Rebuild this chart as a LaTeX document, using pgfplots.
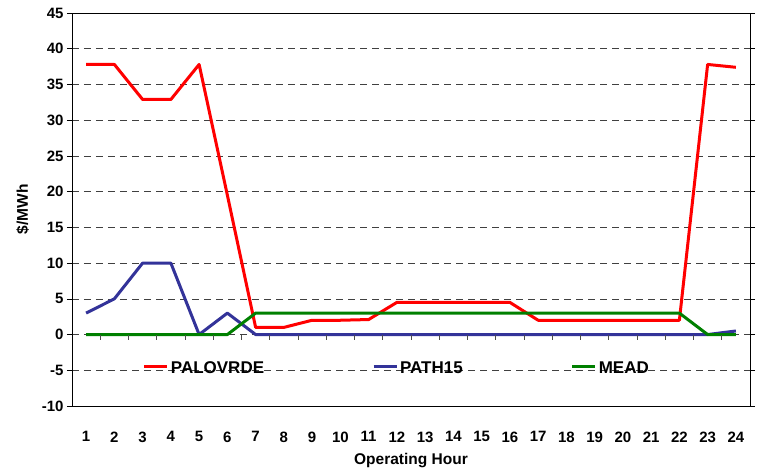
\documentclass[border=0pt]{standalone}
\usepackage{pgfplots}
\pgfplotsset{compat=1.18}
\usepackage{fontspec}
\setmainfont{Liberation Sans}
\usetikzlibrary{calc}
\definecolor{pred}{RGB}{255,0,0}
\definecolor{pblue}{RGB}{51,51,153}
\definecolor{pgreen}{RGB}{0,128,0}
\begin{document}
\begin{tikzpicture}
\begin{axis}[
  name=ax,
  scale only axis, width=678pt, height=393pt,
  xmin=0.5, xmax=24.5, ymin=-10, ymax=45,
  xtick={1,...,24}, ytick={-10,-5,...,45},
  xtick style={draw=none},
  ytick style={black, line width=0.6pt},
  tick align=outside, major tick length=5pt,
  ymajorgrids, grid style={black!75, dash pattern=on 7pt off 5pt, line width=0.6pt},
  axis line style={black, line width=0.8pt},
  /pgf/number format/assume math mode=true,
  ticklabel style={font=\bfseries\fontsize{15}{17}\selectfont},
  xticklabel style={yshift=-17pt},
  xlabel={Operating Hour}, ylabel={\$/MWh},
  label style={font=\bfseries\fontsize{15.5}{17}\selectfont},
  xlabel style={yshift=-4pt},
  ylabel style={yshift=6pt},
  legend columns=3,
  legend style={draw=none, fill=none, at={(axis cs:12.0,-4.67)}, anchor=center,
    font=\bfseries\fontsize{17}{19}\selectfont,
    /tikz/every even column/.append style={column sep=106pt}},
  legend image code/.code={\draw[#1] (0pt,1pt)--(23pt,1pt);},
]
\addplot[pred, line width=3pt, line join=round] coordinates {(1,37.8)(2,37.8)(3,32.9)(4,32.9)(5,37.8)(6,19.5)(7,1)(8,1)(9,2)(10,2)(11,2.1)(12,4.5)(13,4.5)(14,4.5)(15,4.5)(16,4.5)(17,2)(18,2)(19,2)(20,2)(21,2)(22,2)(23,37.8)(24,37.4)};
\addlegendentry{PALOVRDE}
\addplot[pblue, line width=3pt, line join=round] coordinates {(1,3)(2,5)(3,10)(4,10)(5,0)(6,3)(7,0)(8,0)(9,0)(10,0)(11,0)(12,0)(13,0)(14,0)(15,0)(16,0)(17,0)(18,0)(19,0)(20,0)(21,0)(22,0)(23,0)(24,0.5)};
\addlegendentry{PATH15}
\addplot[pgreen, line width=3pt, line join=round] coordinates {(1,0)(2,0)(3,0)(4,0)(5,0)(6,0)(7,3)(8,3)(9,3)(10,3)(11,3)(12,3)(13,3)(14,3)(15,3)(16,3)(17,3)(18,3)(19,3)(20,3)(21,3)(22,3)(23,0)(24,0)};
\addlegendentry{MEAD}
\pgfplotsinvokeforeach{1,...,23}{\draw[black!70, line width=0.6pt] (axis cs:#1+0.5,0) -- ([yshift=-5pt]axis cs:#1+0.5,0);}
\end{axis}
\pgfresetboundingbox
\path ($(ax.south west)+(-72pt,-67pt)$) rectangle ($(ax.north east)+(7pt,13pt)$);
\end{tikzpicture}
\end{document}
